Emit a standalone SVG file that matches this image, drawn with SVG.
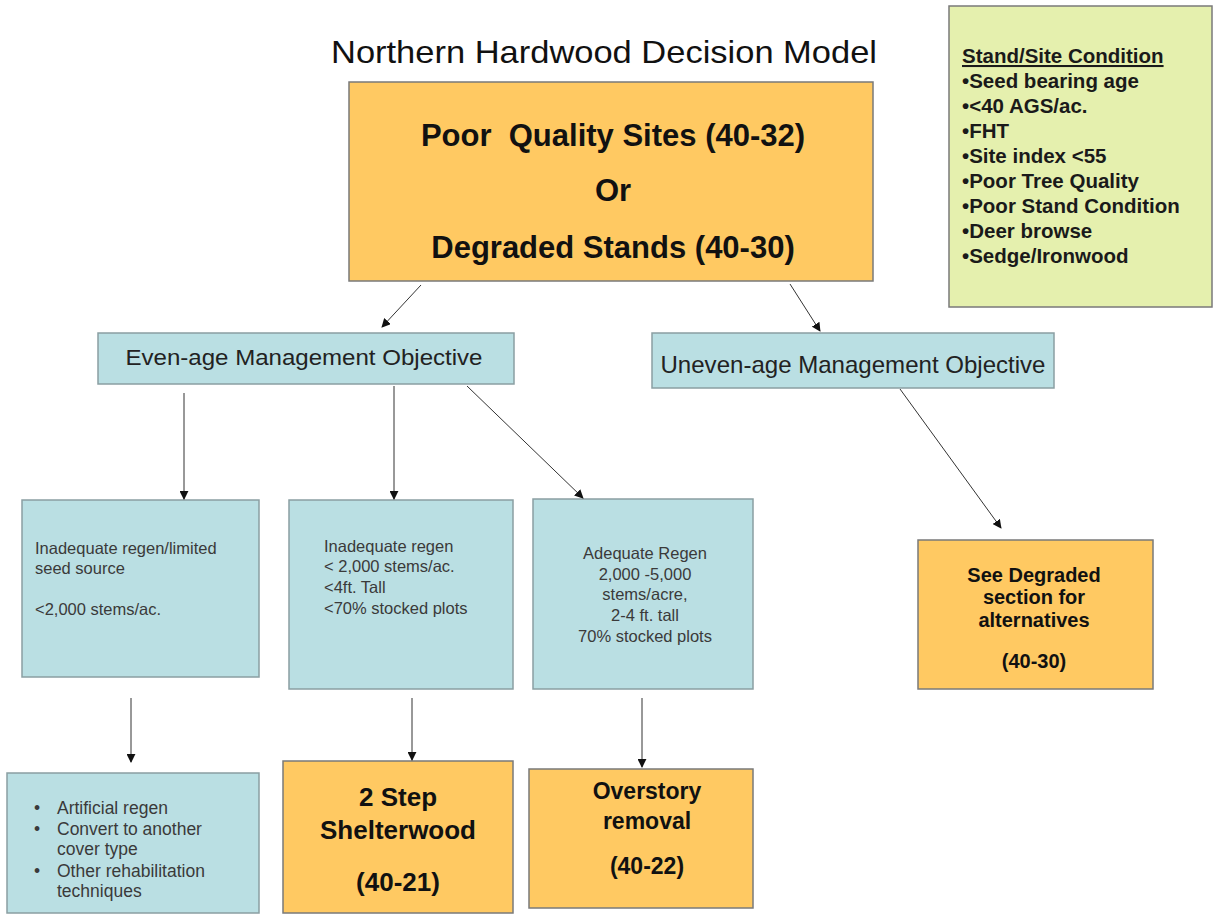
<svg xmlns="http://www.w3.org/2000/svg" width="1217" height="919" viewBox="0 0 1217 919">
<style>
text{font-family:"Liberation Sans",Arial,sans-serif}
.org{fill:#FFC962;stroke:#7a7a7a;stroke-width:1.5}
.teal{fill:#BADFE3;stroke:#8a9fa2;stroke-width:1.5}
.grn{fill:#E5F0AE;stroke:#7a7a7a;stroke-width:1.5}
.b{font-weight:bold;fill:#111}
.s{font-size:16.5px;fill:#3a3a3a}
.m{fill:#222}
.g{font-size:20.5px;font-weight:bold;fill:#1a1a1a}
.c{stroke:#333;stroke-width:1;fill:none;marker-end:url(#ah)}
</style>
<defs>
<marker id="ah" viewBox="0 0 10 10" refX="9" refY="5" markerWidth="9" markerHeight="9" markerUnits="userSpaceOnUse" orient="auto">
<path d="M0,0 L10,5 L0,10 z" fill="#111"/>
</marker>
</defs>
<rect width="1217" height="919" fill="#fff"/>
<text x="604" y="63" font-size="32" text-anchor="middle" textLength="546" lengthAdjust="spacingAndGlyphs" fill="#111">Northern Hardwood Decision Model</text>

<g id="top">
<rect class="org" x="349" y="82" width="524" height="199"/>
<text class="b" x="613" y="146" font-size="31" text-anchor="middle" xml:space="preserve">Poor  Quality Sites (40-32)</text>
<text class="b" x="613" y="201" font-size="31" text-anchor="middle">Or</text>
<text class="b" x="613" y="258" font-size="31" text-anchor="middle">Degraded Stands (40-30)</text>
</g>

<g id="conditions">
<rect class="grn" x="949" y="6" width="263" height="301"/>
<text class="g" x="962" y="63" text-decoration="underline">Stand/Site Condition</text>
<text class="g" x="962" y="88">•Seed bearing age</text>
<text class="g" x="962" y="113">•&lt;40 AGS/ac.</text>
<text class="g" x="962" y="138">•FHT</text>
<text class="g" x="962" y="163">•Site index &lt;55</text>
<text class="g" x="962" y="188">•Poor Tree Quality</text>
<text class="g" x="962" y="213">•Poor Stand Condition</text>
<text class="g" x="962" y="238">•Deer browse</text>
<text class="g" x="962" y="263">•Sedge/Ironwood</text>
</g>

<g id="evenage">
<rect class="teal" x="98" y="333" width="416" height="51"/>
<text class="m" x="304" y="365" font-size="22" text-anchor="middle" textLength="357" lengthAdjust="spacingAndGlyphs">Even-age Management Objective</text>
</g>

<g id="unevenage">
<rect class="teal" x="652" y="333" width="402" height="55"/>
<text class="m" x="853" y="373" font-size="24" text-anchor="middle" textLength="385" lengthAdjust="spacingAndGlyphs">Uneven-age Management Objective</text>
</g>

<g id="inadequate-limited">
<rect class="teal" x="22" y="500" width="237" height="177"/>
<text class="s" x="35" y="554">Inadequate regen/limited</text>
<text class="s" x="35" y="574">seed source</text>
<text class="s" x="35" y="615">&lt;2,000 stems/ac.</text>
</g>

<g id="inadequate">
<rect class="teal" x="289" y="500" width="224" height="189"/>
<text class="s" x="324" y="552">Inadequate regen</text>
<text class="s" x="324" y="572">&lt; 2,000 stems/ac.</text>
<text class="s" x="324" y="593">&lt;4ft. Tall</text>
<text class="s" x="324" y="614">&lt;70% stocked plots</text>
</g>

<g id="adequate">
<rect class="teal" x="533" y="499" width="220" height="190"/>
<text class="s" x="645" y="559" text-anchor="middle">Adequate Regen</text>
<text class="s" x="645" y="580" text-anchor="middle">2,000 -5,000</text>
<text class="s" x="645" y="600" text-anchor="middle">stems/acre,</text>
<text class="s" x="645" y="621" text-anchor="middle">2-4 ft. tall</text>
<text class="s" x="645" y="642" text-anchor="middle">70% stocked plots</text>
</g>

<g id="degraded">
<rect class="org" x="918" y="540" width="235" height="149"/>
<text class="b" x="1034" y="582" font-size="20" text-anchor="middle">See Degraded</text>
<text class="b" x="1034" y="604" font-size="20" text-anchor="middle">section for</text>
<text class="b" x="1034" y="627" font-size="20" text-anchor="middle">alternatives</text>
<text class="b" x="1034" y="668" font-size="20" text-anchor="middle">(40-30)</text>
</g>

<g id="artificial">
<rect class="teal" x="7" y="773" width="252" height="140"/>
<g class="s" style="font-size:17.5px">
<text x="34" y="814">•</text><text x="57" y="814">Artificial regen</text>
<text x="34" y="835">•</text><text x="57" y="835">Convert to another</text>
<text x="57" y="855">cover type</text>
<text x="34" y="877">•</text><text x="57" y="877">Other rehabilitation</text>
<text x="57" y="897">techniques</text>
</g>
</g>

<g id="shelterwood">
<rect class="org" x="283" y="761" width="230" height="152"/>
<text class="b" x="398" y="806" font-size="26" text-anchor="middle">2 Step</text>
<text class="b" x="398" y="839" font-size="26" text-anchor="middle">Shelterwood</text>
<text class="b" x="398" y="891" font-size="26" text-anchor="middle">(40-21)</text>
</g>

<g id="overstory">
<rect class="org" x="529" y="769" width="224" height="139"/>
<text class="b" x="647" y="799" font-size="23" text-anchor="middle">Overstory</text>
<text class="b" x="647" y="829" font-size="23" text-anchor="middle">removal</text>
<text class="b" x="647" y="874" font-size="23" text-anchor="middle">(40-22)</text>
</g>

<g id="connectors">
<line class="c" x1="421" y1="285" x2="382" y2="327"/>
<line class="c" x1="790" y1="284" x2="820" y2="331"/>
<line class="c" x1="184" y1="393" x2="184" y2="499"/>
<line class="c" x1="394" y1="386" x2="394" y2="499"/>
<line class="c" x1="467" y1="386" x2="583" y2="498"/>
<line class="c" x1="900" y1="389" x2="1001" y2="528"/>
<line class="c" x1="131" y1="698" x2="131" y2="762"/>
<line class="c" x1="412" y1="698" x2="412" y2="760"/>
<line class="c" x1="642" y1="698" x2="642" y2="767"/>
</g>
</svg>
